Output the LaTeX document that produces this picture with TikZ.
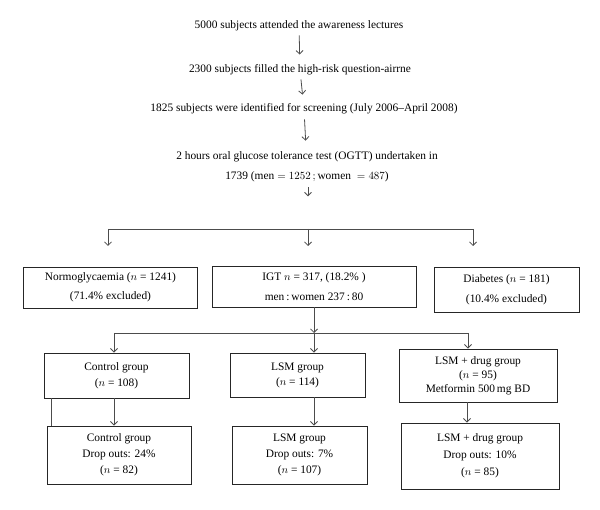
\documentclass[tikz,border=0pt]{standalone}
\usepackage{fontspec}
\setmainfont{Liberation Serif}
\usepackage{tikz}
\usetikzlibrary{arrows.meta, positioning}
\tikzstyle{stage} = [
    inner sep=0pt,
    align=center,
    font=\fontsize{11.4}{20}\selectfont
]
\tikzstyle{groupbox} = [
    rectangle,
    draw=black!85,
    line width=0.9pt,
    align=center,
    inner sep=0pt
]
\tikzstyle{arr} = [
    draw=black!70,
    line width=0.8pt,
    -{Straight Barb[length=3.5pt,width=7pt]}
]
\tikzstyle{link} = [
    draw=black!70,
    line width=0.8pt
]

\begin{document}
\begin{tikzpicture}[x=1pt, y=-1pt]
            \useasboundingbox (0,0) rectangle (600,510);
            % screening steps
            \node[stage] (lect) at (299,26) {5000 subjects attended the awareness lectures};
            \node[stage] (quest) at (300,70) {2300 subjects filled the high-risk question-airrne};
            \node[stage] (screen) at (304,109) {1825 subjects were identified for screening (July 2006--April 2008)};
            \node[stage] (ogtt) at (307,167) {2 hours oral glucose tolerance test (OGTT) undertaken in\\
                1739 ($\mathrm{men} = 1252\,;\mathrm{women} \ = 487$)};

            \draw[arr, shorten <=4pt, shorten >=10pt] (lect) -- (quest);
            \draw[arr, shorten <=4pt, shorten >=9pt] (quest) -- (screen);
            \draw[arr, shorten <=5pt, shorten >=11pt] (screen) -- (ogtt);

            % first split
            \coordinate (split) at (308,229);
            \coordinate (splitL) at (108,229);
            \coordinate (splitR) at (473,229);
            \draw[arr, shorten <=5pt] (ogtt.south -| split) -- ++(0,14);
            \draw[link] (splitL) -- (splitR);

            \node[groupbox, minimum width=174pt, minimum height=41pt,
                font=\fontsize{11.4}{19}\selectfont] (normo) at (110.5,287.5)
                {Normoglycaemia ($n$ = 1241)\\(71.4\% excluded)};
            \node[groupbox, minimum width=204pt, minimum height=41pt,
                font=\fontsize{11.4}{20}\selectfont] (igt) at (314,286.5)
                {IGT $n$ = 317, (18.2\% )\\men\,:\,women 237\,:\,80};
            \node[groupbox, minimum width=145pt, minimum height=45pt,
                font=\fontsize{11.4}{20}\selectfont] (diab) at (506.5,289.5)
                {Diabetes ($n$ = 181)\\(10.4\% excluded)};

            \draw[arr] (splitL) -- (splitL |- 0,246);
            \draw[arr] (split) -- (split |- 0,246);
            \draw[arr] (splitR) -- (splitR |- 0,246);

            % second split
            \coordinate (split2) at (314,333);
            \coordinate (split2L) at (114,333);
            \coordinate (split2R) at (468,333);
            \draw[arr] (igt.south) -- (split2);
            \draw[link] (split2L) -- (split2R);

            \node[groupbox, minimum width=145pt, minimum height=45pt,
                font=\fontsize{11.4}{16}\selectfont] (ctrl) at (116.5,375.5)
                {Control group\\($n$ = 108)};
            \node[groupbox, minimum width=135pt, minimum height=44pt,
                font=\fontsize{11.4}{15}\selectfont] (lsm) at (297.5,375)
                {LSM group\\($n$ = 114)};
            \node[groupbox, minimum width=158pt, minimum height=53pt,
                font=\fontsize{11.4}{14}\selectfont] (drug) at (478,375.5)
                {LSM + drug group\\($n$ = 95)\\Metformin 500\,mg BD};

            \draw[arr] (split2L) -- (split2L |- ctrl.north);
            \draw[arr] (split2) -- (split2 |- lsm.north);
            \draw[arr] (split2R) -- (split2R |- drug.north);

            % after follow up
            \node[groupbox, minimum width=144pt, minimum height=58pt,
                font=\fontsize{11.4}{16}\selectfont] (ctrlout) at (119,455)
                {Control group\\Drop outs: 24\%\\($n$ = 82)};
            \node[groupbox, minimum width=135pt, minimum height=58pt,
                font=\fontsize{11.4}{16}\selectfont] (lsmout) at (299.5,455)
                {LSM group\\Drop outs: 7\%\\($n$ = 107)};
            \node[groupbox, minimum width=158pt, minimum height=66pt,
                font=\fontsize{11.4}{17}\selectfont] (drugout) at (480,456)
                {LSM + drug group\\Drop outs: 10\%\\($n$ = 85)};

            \draw[arr] (ctrl.south -| split2L) -- (ctrlout.north -| split2L);
            \draw[link] ([xshift=8pt]ctrl.south west) -- ([xshift=5pt]ctrlout.north west);
            \draw[arr] (lsm.south -| split2) -- (lsmout.north -| split2);
            \draw[arr] (drug.south -| 467,0) -- (drugout.north -| 467,0);
        \end{tikzpicture}
\end{document}
